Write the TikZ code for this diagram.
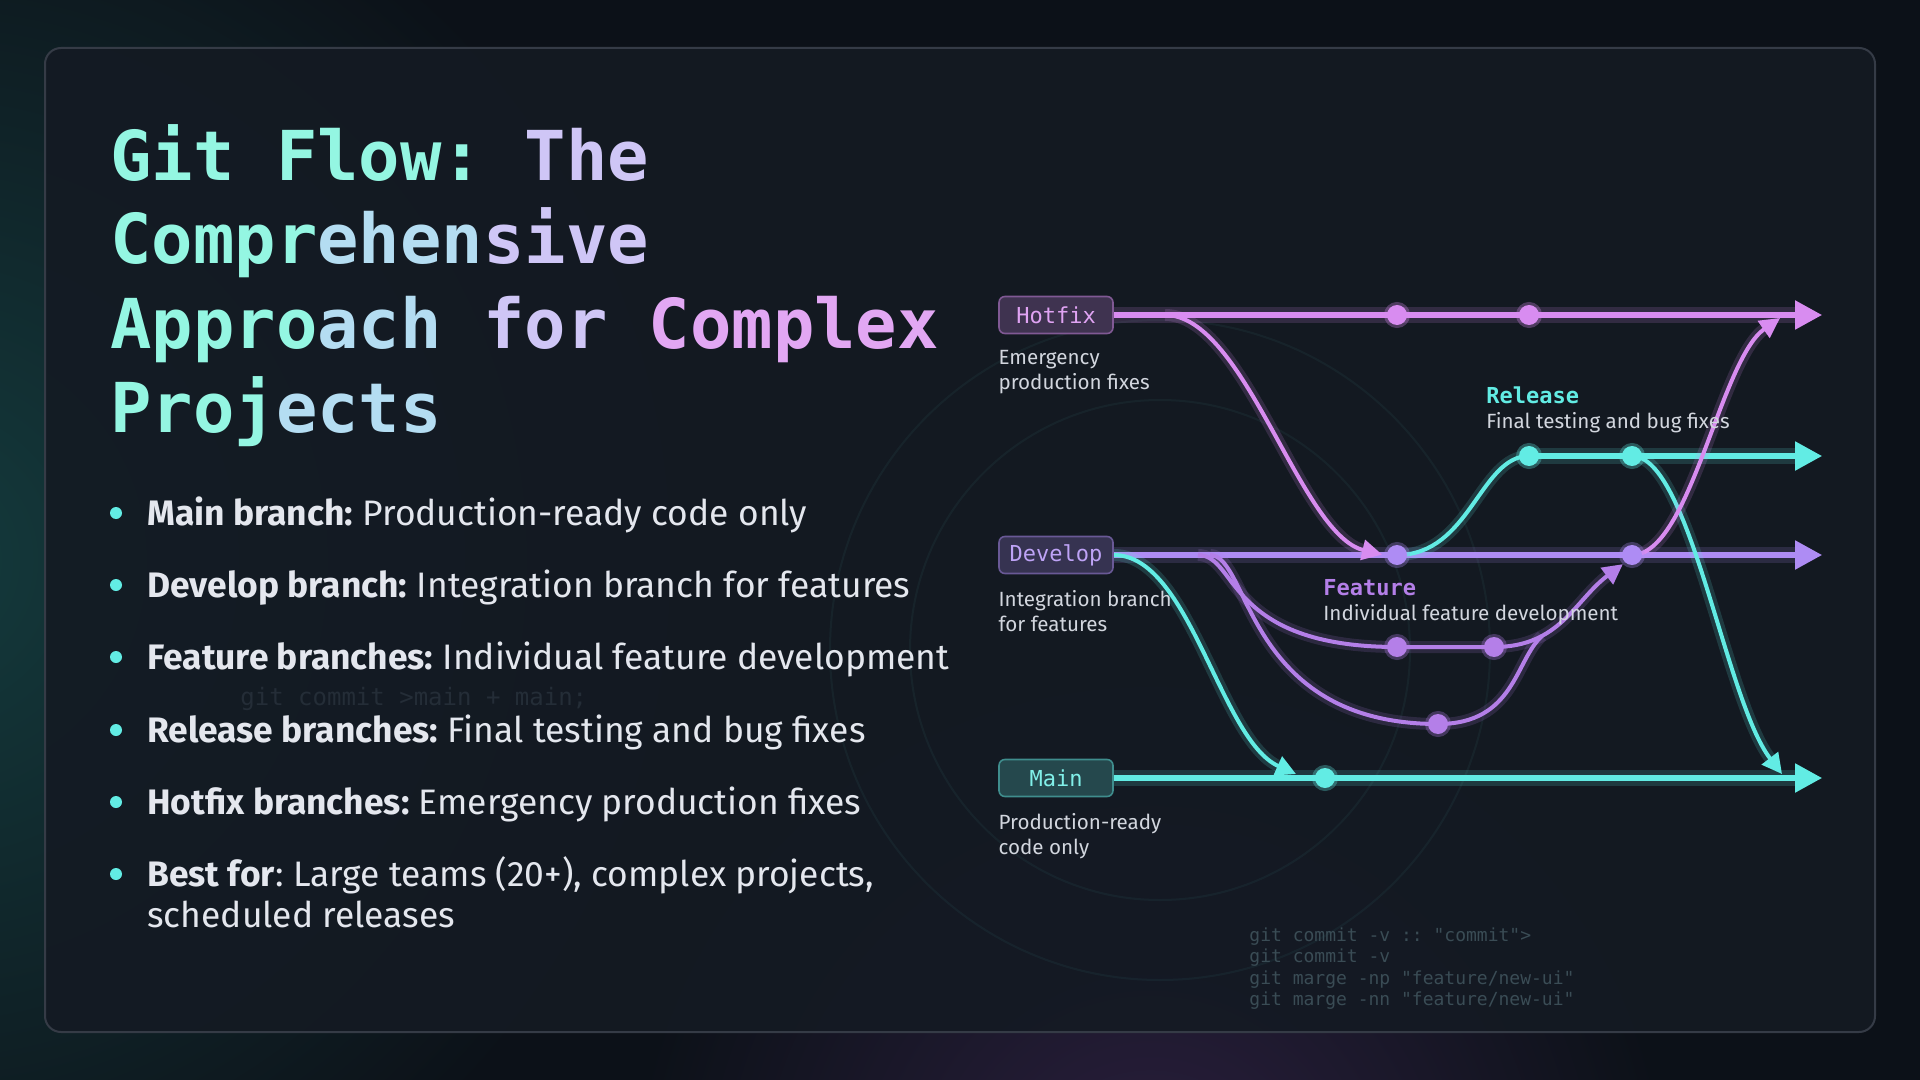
\documentclass[tikz,border=0pt]{standalone}
\usepackage{fontspec}
\setmainfont{Fira Sans}
\newfontfamily\codefont{DejaVu Sans Mono}
\frenchspacing
\usepackage{tikz}
\usetikzlibrary{positioning,arrows.meta,backgrounds,calc}
\definecolor{pagebg}{HTML}{0C1118}
\definecolor{panelbg}{HTML}{141A23}
\definecolor{panelrim}{HTML}{353B46}
\definecolor{glowteal}{HTML}{143B3D}
\definecolor{glowviolet}{HTML}{2B1F3E}
\definecolor{tcyan}{HTML}{94F6E2}
\definecolor{tmid}{HTML}{B4DDF2}
\definecolor{tlav}{HTML}{CFC6F6}
\definecolor{tpink}{HTML}{E2A7F3}
\definecolor{bodytxt}{HTML}{E4E7EE}
\definecolor{dimtxt}{HTML}{D2D6DE}
\definecolor{hotc}{HTML}{D88CF0}
\definecolor{devc}{HTML}{AE8CF4}
\definecolor{featc}{HTML}{B47FE8}
\definecolor{cyanc}{HTML}{62ECE4}
\definecolor{codedim}{HTML}{3A4C55}
\definecolor{codeghost}{HTML}{242D37}
\tikzset{
  titletxt/.style  ={anchor=base west, inner sep=0pt, font=\codefont\bfseries\fontsize{34.4}{40}\selectfont},
  bullettxt/.style ={anchor=base west, inner sep=0pt, text=bodytxt, font=\fontsize{17.7}{20}\selectfont},
  bulletdot/.style ={circle, fill=cyanc, inner sep=0pt, minimum size=6pt},
  branchbox/.style ={rounded corners=3pt, draw=#1!55!panelbg, fill=#1!22!panelbg, line width=0.8pt,
                     text=#1!80!white, font=\codefont\fontsize{11}{13}\selectfont,
                     minimum width=57pt, minimum height=18.5pt, inner sep=0pt},
  desctxt/.style   ={align=left, inner sep=0pt, text=dimtxt, font=\fontsize{10.3}{12.5}\selectfont},
  tagtxt/.style    ={anchor=base west, inner sep=0pt, text=#1, font=\codefont\bfseries\fontsize{11}{13}\selectfont},
  commit/.style    ={circle, fill=#1, draw=#1, draw opacity=0.3, line width=3pt, inner sep=0pt, minimum size=10pt},
  branchline/.style={draw=#1, line width=2.6pt, -{Triangle[length=13.5pt,width=14pt]},
                     preaction={draw=#1, line width=8pt, opacity=0.16}},
  flowline/.style  ={draw=#1, line width=2pt, preaction={draw=#1, line width=6pt, opacity=0.16}},
  mergetip/.style  ={-{Triangle[length=10pt,width=10pt]}},
}
\begin{document}
\begin{tikzpicture}[x=0.5pt, y=-0.5pt]
\useasboundingbox (0,0) rectangle (1920,1080);
\begin{scope}[on background layer]
  \fill[pagebg] (0,0) rectangle (1920,1080);
  \shade[inner color=glowteal, outer color=pagebg] (-80,560) circle (760);
  \shade[inner color=glowviolet, outer color=pagebg] (1150,1200) circle (520);
  \fill[panelbg, fill opacity=0.9, draw=panelrim, line width=1pt, rounded corners=8pt] (45,48) rectangle (1875,1032);
  % faint rings behind the graph
  \draw[cyanc, opacity=0.05, line width=1pt] (1160,650) circle (330) (1160,650) circle (250);
\end{scope}

% title
\node[titletxt] (t1) at (110,181) {\textcolor{tcyan}{Git Flow:} \textcolor{tlav}{The}};
\node[titletxt] (t2) at (110,264) {\textcolor{tcyan}{Compr}\textcolor{tmid}{ehen}\textcolor{tlav}{sive}};
\node[titletxt] (t3) at (110,349) {\textcolor{tcyan}{Appro}\textcolor{tmid}{ach} \textcolor{tlav}{for} \textcolor{tpink}{Complex}};
\node[titletxt] (t4) at (110,432) {\textcolor{tcyan}{Proj}\textcolor{tmid}{ects}};

% bullet list
\node[text=codeghost, anchor=base west, inner sep=0pt, font=\codefont\fontsize{12}{14}\selectfont] (ghost) at (240,705) {git commit >main + main;};
\node[bullettxt] (b1) at (147,525) {\textbf{Main branch:} Production-ready code only};
\node[bullettxt] (b2) at (147,597) {\textbf{Develop branch:} Integration branch for features};
\node[bullettxt] (b3) at (147,669) {\textbf{Feature branches:} Individual feature development};
\node[bullettxt] (b4) at (147,742) {\textbf{Release branches:} Final testing and bug fixes};
\node[bullettxt] (b5) at (147,814) {\textbf{Hotfix branches:} Emergency production fixes};
\node[bullettxt] (b6) at (147,886) {\textbf{Best for}: Large teams (20+), complex projects,};
\node[bullettxt] (b6b) at (147,927) {scheduled releases};
\foreach \b in {b1,b2,b3,b4,b5,b6}
  \node[bulletdot] (\b dot) at ($(\b.base west)+(-31,-12)$) {};

% branch boxes
\node[branchbox=hotc] (hot) at (1056,315) {Hotfix};
\node[branchbox=devc] (dev) at (1056,555) {Develop};
\node[branchbox=cyanc] (mainb) at (1056,778) {Main};
\node[desctxt, below=8pt of hot.south west, anchor=north west] (hotd) {Emergency\\production fixes};
\node[desctxt, below=8pt of dev.south west, anchor=north west] (devd) {Integration branch\\for features};
\node[desctxt, below=8pt of mainb.south west, anchor=north west] (maind) {Production-ready\\code only};
\node[tagtxt=cyanc] (relt) at (1486,403) {Release};
\node[desctxt, anchor=base west] (reld) at (1486,428) {Final testing and bug fixes};
\node[tagtxt=featc] (featt) at (1323,595) {Feature};
\node[desctxt, anchor=base west] (featd) at (1323,620) {Individual feature development};

% commits
\foreach \c/\x/\y/\col in {h1/1397/315/hotc, h2/1529/315/hotc, r1/1529/456/cyanc, r2/1632/456/cyanc,
    d1/1397/555/devc, d2/1632/555/devc, f1/1397/647/featc, f2/1494/647/featc, g1/1438/724/featc, m1/1325/778/cyanc}
  \node[commit=\col] (\c) at (\x,\y) {};

\coordinate (hfend) at (1822,315);
\coordinate (relend) at (1822,456);
\coordinate (devend) at (1822,555);
\coordinate (mainend) at (1822,778);
\coordinate (hsplit) at (1165,315);
\coordinate (fsplit1) at (1198,555);
\coordinate (fsplit2) at (1210,555);
\coordinate (fjoin) at (1542,636);
\coordinate (hmerge) at (1780,318);
\coordinate (mmerge1) at (1296,774);
\coordinate (mmerge2) at (1782,774);

\begin{scope}[on background layer]
\draw[branchline=hotc] (hot.east) -- (hfend);
\draw[branchline=devc] (dev.east) -- (devend);
\draw[branchline=cyanc] (mainb.east) -- (mainend);
\draw[branchline=cyanc] (r1.center) -- (relend);
% feature branches
\draw[flowline=featc, mergetip] (fsplit1) .. controls (1238,555) and (1225,647) .. (f1.center) -- (f2.center)
  .. controls (1560,647) and (1575,600) .. (d2.south west);
\draw[flowline=featc] (fsplit2) .. controls (1250,555) and (1245,724) .. (g1.center)
  .. controls (1515,724) and (1515,660) .. (fjoin);
% merges
\draw[flowline=hotc, mergetip, shorten >=1pt] (hsplit) .. controls (1245,315) and (1300,535) .. (d1.west);
\draw[flowline=cyanc] (d1.center) .. controls (1470,555) and (1480,456) .. (r1.center);
\draw[flowline=cyanc, mergetip] (r2.center) .. controls (1690,456) and (1725,700) .. (mmerge2);
\draw[flowline=hotc, mergetip] (d2.center) .. controls (1690,555) and (1720,360) .. (hmerge);
\draw[flowline=cyanc, mergetip] (dev.east) .. controls (1190,555) and (1220,740) .. (mmerge1);
\end{scope}

\node[text=codedim, anchor=north west, align=left, inner sep=0pt, font=\codefont\fontsize{9}{10.8}\selectfont] (codelog) at (1249,927)
  {git commit -v :: "commit">\\git commit -v\\git marge -np "feature/new-ui"\\git marge -nn "feature/new-ui"};
\end{tikzpicture}
\end{document}
